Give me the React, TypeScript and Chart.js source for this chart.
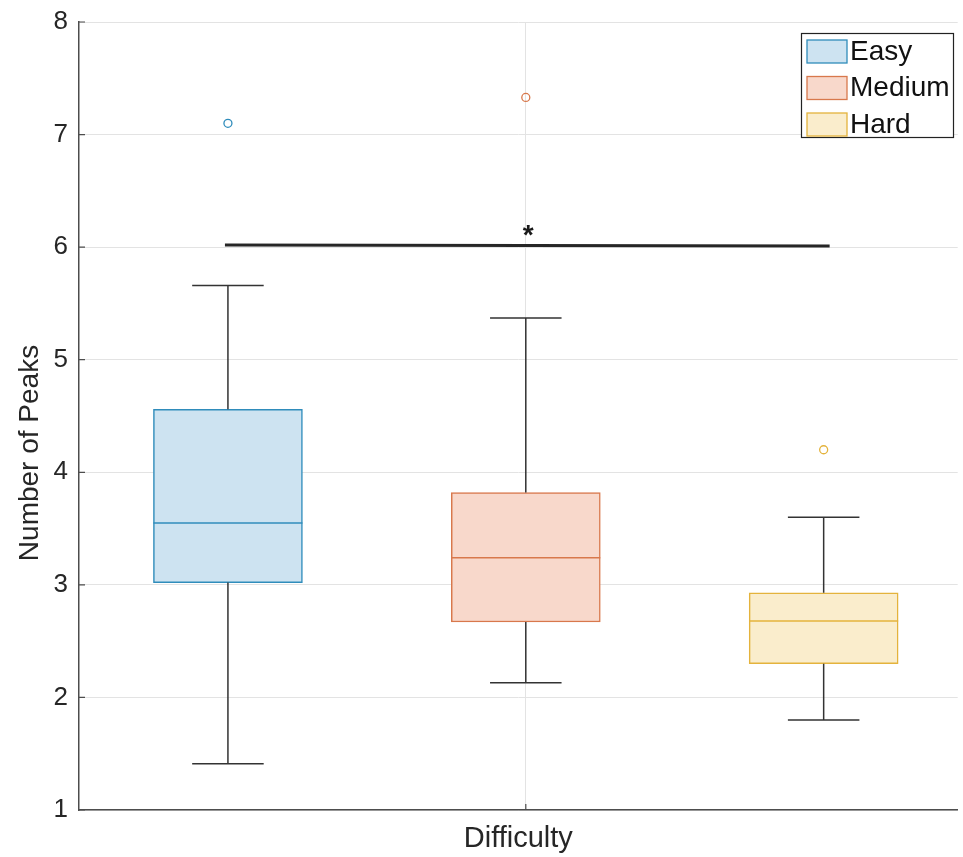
import React, { useEffect, useRef } from 'react';
import { Chart, registerables } from 'chart.js';

Chart.register(...registerables);

// ---- data ----
const categories = ['Easy', 'Medium', 'Hard'];
const groupPositions = [1, 2, 3];
const lowerWhisker = [1.41, 2.13, 1.8];
const q1 = [3.02, 2.67, 2.3];
const medians = [3.55, 3.24, 2.68];
const q3 = [4.56, 3.82, 2.93];
const upperWhisker = [5.66, 5.37, 3.6];
const outlierValues = [7.1, 7.33, 4.2];
const yTickValues = [1, 2, 3, 4, 5, 6, 7, 8];
const xCenterTick = [2];
const xAxisLabel = 'Difficulty';
const yAxisLabel = 'Number of Peaks';
const sigFrom = 0.99;
const sigTo = 3.02;
const sigLevels = [6.02, 6.01];
const sigMark = '*';

// ---- styles ----
const edgeColors = ['#2f8cbb', '#d8784c', '#e4b33c'];
const fillColors = ['#cde3f1', '#f8d8cb', '#faedcc'];
const FONT = '"Liberation Sans", Arial, Helvetica, sans-serif';
const TEXT = '#262626';
const AXIS = '#4d4d4d';

const extrasPlugin = {
  id: 'boxExtras',
  afterDatasetsDraw(chart: any) {
    const ctx = chart.ctx;
    const xs = chart.scales.x;
    const ys = chart.scales.y;
    const area = chart.chartArea;
    ctx.save();
    // whiskers and medians
    categories.forEach((_, i) => {
      const meta = chart.getDatasetMeta(i);
      const bar = meta.data[0];
      if (!bar) return;
      const { x: cx, width } = bar.getProps(['x', 'width'], true);
      const cap = width * 0.24;
      ctx.strokeStyle = '#333333';
      ctx.lineWidth = 1.5;
      ctx.beginPath();
      ctx.moveTo(cx, ys.getPixelForValue(q3[i]));
      ctx.lineTo(cx, ys.getPixelForValue(upperWhisker[i]));
      ctx.moveTo(cx, ys.getPixelForValue(q1[i]));
      ctx.lineTo(cx, ys.getPixelForValue(lowerWhisker[i]));
      const yu = ys.getPixelForValue(upperWhisker[i]);
      const yl = ys.getPixelForValue(lowerWhisker[i]);
      ctx.moveTo(cx - cap, yu);
      ctx.lineTo(cx + cap, yu);
      ctx.moveTo(cx - cap, yl);
      ctx.lineTo(cx + cap, yl);
      ctx.stroke();
      ctx.strokeStyle = edgeColors[i];
      ctx.lineWidth = 1.5;
      ctx.beginPath();
      const ym = ys.getPixelForValue(medians[i]);
      ctx.moveTo(cx - width / 2, ym);
      ctx.lineTo(cx + width / 2, ym);
      ctx.stroke();
    });

    // significance star
    const mid = (sigFrom + sigTo) / 2;
    const midLevel = (sigLevels[0] + sigLevels[1]) / 2;
    const sx = xs.getPixelForValue(mid) + 1;
    const sy = ys.getPixelForValue(midLevel);
    ctx.font = `bold 28px ${FONT}`;
    ctx.fillStyle = '#1a1a1a';
    ctx.textAlign = 'center';
    ctx.textBaseline = 'alphabetic';
    const m = ctx.measureText(sigMark);
    const gh = m.actualBoundingBoxAscent - m.actualBoundingBoxDescent;
    const centerTarget = sy - 7;
    const baseline = centerTarget + m.actualBoundingBoxAscent - gh / 2;
    ctx.fillText(sigMark, sx, baseline);

    // inward ticks
    ctx.strokeStyle = AXIS;
    ctx.lineWidth = 1.2;
    ctx.beginPath();
    yTickValues.forEach((v) => {
      const py = ys.getPixelForValue(v);
      ctx.moveTo(area.left, py);
      ctx.lineTo(area.left + 6, py);
    });
    xCenterTick.forEach((v) => {
      const px = xs.getPixelForValue(v);
      ctx.moveTo(px, area.bottom);
      ctx.lineTo(px, area.bottom - 6);
    });
    ctx.stroke();

    // y axis title
    ctx.save();
    ctx.translate(38, 453);
    ctx.rotate(-Math.PI / 2);
    ctx.font = `28px ${FONT}`;
    ctx.fillStyle = TEXT;
    ctx.textAlign = 'center';
    ctx.textBaseline = 'alphabetic';
    ctx.fillText(yAxisLabel, 0, 0);
    ctx.restore();

    // legend
    const lx = 801;
    const ly = 33;
    const lw = 152;
    const lh = 104;
    ctx.fillStyle = '#ffffff';
    ctx.fillRect(lx, ly, lw, lh);
    ctx.strokeStyle = '#222222';
    ctx.lineWidth = 1.2;
    ctx.strokeRect(lx + 0.5, ly + 0.5, lw, lh);
    categories.forEach((c, i) => {
      const rowTop = 40 + i * 36.5;
      ctx.fillStyle = fillColors[i];
      ctx.fillRect(807, rowTop, 40, 23);
      ctx.strokeStyle = edgeColors[i];
      ctx.lineWidth = 1.3;
      ctx.strokeRect(807, rowTop, 40, 23);
      ctx.fillStyle = '#111111';
      ctx.font = `28px ${FONT}`;
      ctx.textAlign = 'left';
      ctx.textBaseline = 'middle';
      ctx.fillText(c, 850, rowTop + 12);
    });
    ctx.restore();
  },
};

export default function App() {
  const ref = useRef<HTMLCanvasElement>(null);

  useEffect(() => {
    if (!ref.current) return;
    Chart.defaults.font.family = FONT;
    const boxSets: any[] = categories.map((c, i) => ({
      type: 'bar',
      label: c,
      data: [{ x: groupPositions[i], y: [q1[i], q3[i]] }],
      backgroundColor: fillColors[i],
      borderColor: edgeColors[i],
      borderWidth: 1.5,
      borderSkipped: false,
      barThickness: 149,
      grouped: false,
      order: 3,
    }));
    const outlierSets: any[] = categories.map((c, i) => ({
      type: 'scatter',
      label: c + ' outlier',
      data: [{ x: groupPositions[i], y: outlierValues[i] }],
      pointRadius: 4,
      pointBorderWidth: 1.3,
      pointBorderColor: edgeColors[i],
      pointBackgroundColor: 'rgba(255,255,255,0)',
      order: 2,
    }));
    const sigSet: any = {
      type: 'line',
      label: 'significance',
      data: [
        { x: sigFrom, y: sigLevels[0] },
        { x: sigTo, y: sigLevels[1] },
      ],
      borderColor: '#262626',
      borderWidth: 3,
      pointRadius: 0,
      fill: false,
      order: 1,
    };

    const chart = new Chart(ref.current, {
      type: 'bar',
      data: { datasets: [...boxSets, ...outlierSets, sigSet] },
      options: {
        animation: false,
        responsive: false,
        devicePixelRatio: 1,
        layout: { padding: { top: 22, left: 0, right: 0, bottom: 0 } },
        plugins: {
          legend: { display: false },
          tooltip: { enabled: false },
        },
        scales: {
          x: {
            type: 'linear',
            min: 0.5,
            max: 3.45,
            offset: false,
            afterBuildTicks: (scale: any) => {
              scale.ticks = xCenterTick.map((v) => ({ value: v }));
            },
            afterFit: (scale: any) => {
              scale.height = 47;
              scale.paddingLeft = 0;
              scale.paddingRight = 0;
            },
            ticks: { display: false },
            grid: { color: '#e3e3e3', lineWidth: 1, drawTicks: false, offset: false },
            border: { color: AXIS, width: 1.5 },
            title: {
              display: true,
              text: xAxisLabel,
              color: TEXT,
              font: { size: 29, family: FONT },
              padding: { top: 0, bottom: 1 },
            },
          },
          y: {
            type: 'linear',
            min: 1,
            max: 8,
            afterBuildTicks: (scale: any) => {
              scale.ticks = yTickValues.map((v) => ({ value: v }));
            },
            afterFit: (scale: any) => {
              scale.width = 79;
              scale.paddingTop = 0;
              scale.paddingBottom = 0;
            },
            ticks: {
              color: TEXT,
              font: { size: 26, family: FONT },
              padding: 11,
            },
            grid: { color: '#e3e3e3', lineWidth: 1, drawTicks: false },
            border: { color: AXIS, width: 1.5 },
          },
        },
      },
      plugins: [extrasPlugin],
    } as any);
    return () => chart.destroy();
  }, []);

  return (
    <div style={{ position: 'absolute', left: 0, top: 0, width: 963, height: 857, background: '#fff' }}>
      <canvas ref={ref} width={963} height={857} style={{ display: 'block' }} />
    </div>
  );
}
